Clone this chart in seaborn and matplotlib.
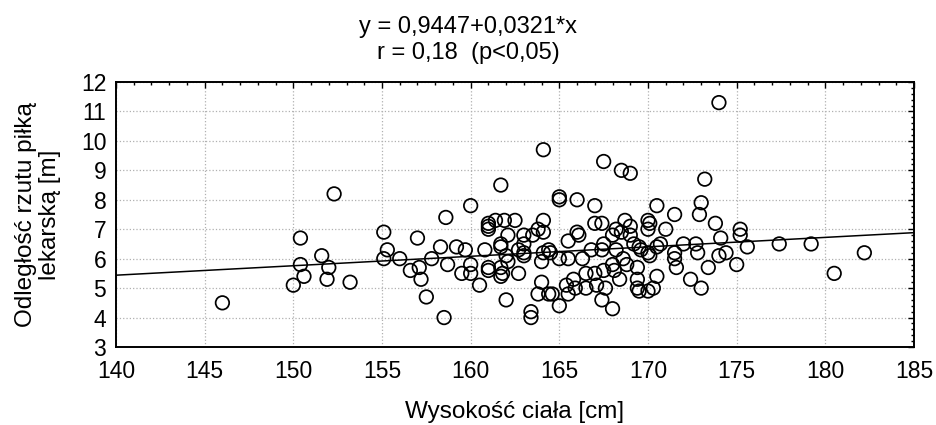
import numpy as np
import pandas as pd
import seaborn as sns
import matplotlib.pyplot as plt
from matplotlib.ticker import MultipleLocator

# ---- data ----
height_cm = [
    146.0, 152.3, 150.4, 150.4, 150.6, 150.0, 151.6, 152.0, 151.9, 153.2,
    155.1, 155.3, 155.1, 156.0, 156.6, 157.1, 157.2, 157.0, 157.5, 157.8,
    158.3, 158.6, 158.5, 158.7, 159.2, 159.5, 159.7, 160.0, 160.0, 160.0,
    160.5, 160.8, 161.0, 161.0, 161.0, 161.0, 161.0, 161.4, 161.7, 161.7,
    161.7, 161.7, 161.7, 161.8, 161.9, 162.0, 162.1, 162.1, 162.0, 162.5,
    162.7, 162.7, 163.0, 163.0, 163.0, 163.0, 163.4, 163.4, 163.5, 163.8,
    164.1, 164.1, 164.1, 164.0, 164.0, 164.1, 163.8, 164.4, 164.6, 164.4,
    164.5, 165.0, 165.0, 165.0, 165.0, 165.5, 165.5, 165.5, 165.4, 165.8,
    166.0, 166.0, 166.1, 166.3, 165.9, 166.5, 166.5, 166.8, 167.0, 167.0,
    167.4, 167.5, 168.5, 169.0, 167.0, 167.1, 167.5, 167.5, 167.4, 167.4,
    167.6, 168.0, 168.0, 168.0, 168.1, 168.2, 168.2, 168.4, 168.5, 168.6,
    168.7, 168.8, 169.0, 169.0, 169.2, 169.4, 169.4, 169.4, 169.5, 169.5,
    169.6, 170.0, 170.0, 170.1, 170.0, 170.1, 170.0, 170.3, 170.5, 170.5,
    170.5, 170.7, 171.0, 171.5, 171.5, 171.5, 171.6, 172.0, 172.4, 172.7,
    172.8, 173.0, 172.9, 173.0, 173.2, 173.4, 173.8, 174.0, 174.1, 174.0,
    174.4, 175.0, 175.2, 175.2, 175.6, 177.4, 179.2, 180.5, 182.2,
]
throw_m = [
    4.5, 8.2, 6.7, 5.8, 5.4, 5.1, 6.1, 5.7, 5.3, 5.2,
    6.9, 6.3, 6.0, 6.0, 5.6, 5.7, 5.3, 6.7, 4.7, 6.0,
    6.4, 7.4, 4.0, 5.8, 6.4, 5.5, 6.3, 7.8, 5.8, 5.5,
    5.1, 6.3, 7.2, 7.1, 7.0, 5.7, 5.6, 7.3, 8.5, 6.5,
    6.4, 5.7, 5.4, 5.5, 7.3, 6.1, 6.8, 5.9, 4.6, 7.3,
    5.5, 6.3, 6.8, 6.5, 6.2, 6.1, 4.2, 4.0, 6.8, 7.0,
    9.7, 7.3, 6.9, 5.9, 5.2, 6.2, 4.8, 4.8, 4.8, 6.3,
    6.2, 8.1, 8.0, 6.0, 4.4, 6.6, 6.0, 4.8, 5.1, 5.3,
    8.0, 6.9, 6.8, 6.0, 5.0, 5.5, 5.0, 6.3, 7.8, 7.2,
    7.2, 9.3, 9.0, 8.9, 5.5, 5.1, 5.6, 6.5, 6.3, 4.6,
    5.0, 4.3, 5.8, 6.8, 5.6, 7.0, 6.3, 5.3, 6.9, 6.0,
    7.3, 5.8, 7.1, 6.8, 6.5, 5.7, 5.3, 5.0, 4.9, 6.4,
    6.3, 7.3, 7.0, 7.2, 6.2, 6.1, 4.9, 5.0, 7.8, 6.4,
    5.4, 6.5, 7.0, 7.5, 6.2, 6.0, 5.7, 6.5, 5.3, 6.5,
    6.2, 7.9, 7.5, 5.0, 8.7, 5.7, 7.2, 11.3, 6.7, 6.1,
    6.2, 5.8, 7.0, 6.8, 6.4, 6.5, 6.5, 5.5, 6.2,
]
intercept = 0.9447
slope = 0.0321
title_lines = ["y = 0,9447+0,0321*x", "r = 0,18  (p<0,05)"]
x_label = "Wysokość ciała [cm]"
y_label = "Odległość rzutu piłką\nlekarską [m]"
x_ticks = [140, 145, 150, 155, 160, 165, 170, 175, 180, 185]
y_ticks = [3, 4, 5, 6, 7, 8, 9, 10, 11, 12]

# ---- style ----
sns.set_theme(style="white")
plt.rcParams['font.family'] = ['Liberation Sans', 'DejaVu Sans']
plt.rcParams['text.color'] = 'black'

W, H = 937, 425
fig = plt.figure(figsize=(W / 100, H / 100), dpi=100)
fig.patch.set_facecolor('white')
ax = fig.add_axes([116 / W, 1 - 347 / H, (914 - 116) / W, (347 - 82) / H])

df = pd.DataFrame({'x': height_cm, 'y': throw_m})
sns.scatterplot(data=df, x='x', y='y', ax=ax, marker='o', s=95,
                facecolor='none', edgecolor='black', linewidth=1.25, zorder=3)

ax.set_xlim(x_ticks[0], x_ticks[-1])
ax.set_ylim(y_ticks[0], y_ticks[-1])

line_df = pd.DataFrame({'x': [x_ticks[0], x_ticks[-1]]})
line_df['y'] = intercept + slope * line_df['x']
sns.lineplot(data=line_df, x='x', y='y', ax=ax, color='black', linewidth=1.1, zorder=2)

ax.set_xticks(x_ticks)
ax.set_yticks(y_ticks)
ax.xaxis.set_minor_locator(MultipleLocator(1))
ax.yaxis.set_minor_locator(MultipleLocator(0.2))
ax.tick_params(which='both', direction='in', top=True, right=True,
               colors='black', width=1.0)
ax.tick_params(which='major', length=4.5, labelsize=16.5)
ax.tick_params(which='minor', length=2.5)
ax.tick_params(axis='x', which='major', pad=9)
ax.tick_params(axis='y', which='major', pad=7)

ax.grid(True, which='major', linestyle=':', color='#b0b0b0', linewidth=0.9)
for sp in ax.spines.values():
    sp.set_color('black')
    sp.set_linewidth(1.4)

ax.set_xlabel(x_label, fontsize=17.5, color='black')
ax.xaxis.label.set_va('center')
ax.xaxis.set_label_coords(0.5, (347 - 412) / (347 - 82))

ax.set_ylabel(y_label, fontsize=17.5, color='black', linespacing=1.12)
ax.yaxis.label.set_va('center')
ax.yaxis.set_label_coords((38 - 116) / (914 - 116), 0.5)

fig.text(0.5, 1 - 27 / H, title_lines[0], ha='center', va='center',
         fontsize=17, color='black')
fig.text(0.5, 1 - 53 / H, title_lines[1], ha='center', va='center',
         fontsize=17, color='black')

fig.savefig('out.png', dpi=100, facecolor='white')
